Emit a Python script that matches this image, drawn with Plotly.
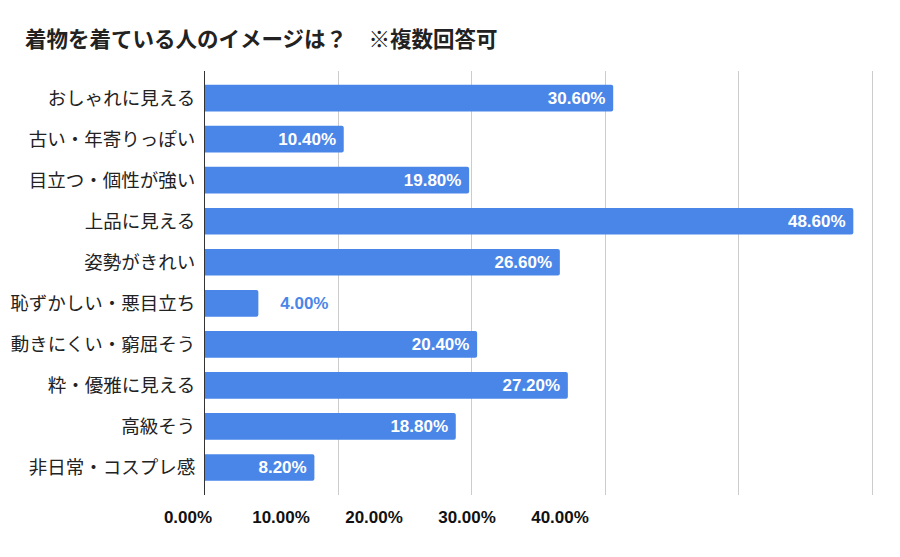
import plotly.graph_objects as go

title_text = "着物を着ている人のイメージは？　※複数回答可"
categories = ["おしゃれに見える", "古い・年寄りっぽい", "目立つ・個性が強い", "上品に見える",
              "姿勢がきれい", "恥ずかしい・悪目立ち", "動きにくい・窮屈そう", "粋・優雅に見える",
              "高級そう", "非日常・コスプレ感"]
values = [30.6, 10.4, 19.8, 48.6, 26.6, 4.0, 20.4, 27.2, 18.8, 8.2]
tick_vals = [0, 10, 20, 30, 40]
tick_labels = ["0.00%", "10.00%", "20.00%", "30.00%", "40.00%"]

BLUE = "#4a86e8"
positions = ["outside" if v < 6 else "inside" for v in values]
texts = [("\u00a0\u00a0\u00a0\u00a0" + f"{v:.2f}%") if p == "outside" else (f"{v:.2f}%" + "\u00a0")
         for v, p in zip(values, positions)]

fig = go.Figure()
fig.add_trace(go.Bar(
    x=values, y=categories, orientation="h",
    marker=dict(color=BLUE, cornerradius=2, line=dict(width=0)),
    text=texts, textposition=positions,
    insidetextanchor="end",
    insidetextfont=dict(color="white", size=17, family="Liberation Sans, Arial, sans-serif", weight="bold"),
    outsidetextfont=dict(color=BLUE, size=17, family="Liberation Sans, Arial, sans-serif", weight="bold"),
    cliponaxis=False,
    hoverinfo="skip",
))
# helper trace so the secondary (label-only) axis is drawn
fig.add_trace(go.Scatter(x=[None], y=[None], xaxis="x2", yaxis="y2", mode="markers",
                         hoverinfo="skip", showlegend=False))

fig.update_layout(
    width=900, height=557,
    margin=dict(l=142, r=32, t=63, b=70, autoexpand=False),
    paper_bgcolor="white", plot_bgcolor="rgba(0,0,0,0)",
    bargap=0.35,
    showlegend=False,
    title=dict(text=title_text, xref="container", yref="container", x=17/900, xanchor="left",
               y=1-31/557, yanchor="middle",
               font=dict(family="Noto Sans CJK JP", size=21.5, color="#222", weight="bold")),
    xaxis=dict(domain=[55/726, 1], range=[0, 50.3], tickvals=[0, 10, 20, 30, 40, 50],
               showgrid=True, gridcolor="#cccccc",
               gridwidth=1, zeroline=False, showticklabels=False, showline=False, fixedrange=True,
               automargin=False),
    yaxis=dict(type="category", categoryorder="array", categoryarray=categories,
               range=[9.67, -0.66], showgrid=False, showline=True, linecolor="#333333", linewidth=1,
               ticks="", ticklabelstandoff=5, automargin=False,
               tickfont=dict(family="Noto Sans CJK JP", size=18.5, color="#222")),
    xaxis2=dict(domain=[0, 1], anchor="y2", range=[(150-188)/9.3, (876-188)/9.3],
                tickvals=tick_vals, ticktext=tick_labels, showgrid=False, zeroline=False,
                showline=False, ticks="", ticklabelstandoff=10, automargin=False,
                tickfont=dict(family="Liberation Sans Narrow, Arial Narrow, Liberation Sans, sans-serif",
                              size=17, color="#111", weight="bold")),
    yaxis2=dict(domain=[0, 1], anchor="x2", range=[0, 1], showgrid=False, zeroline=False,
                showline=False, showticklabels=False, ticks="", automargin=False),
)

fig.write_html("out.html")
